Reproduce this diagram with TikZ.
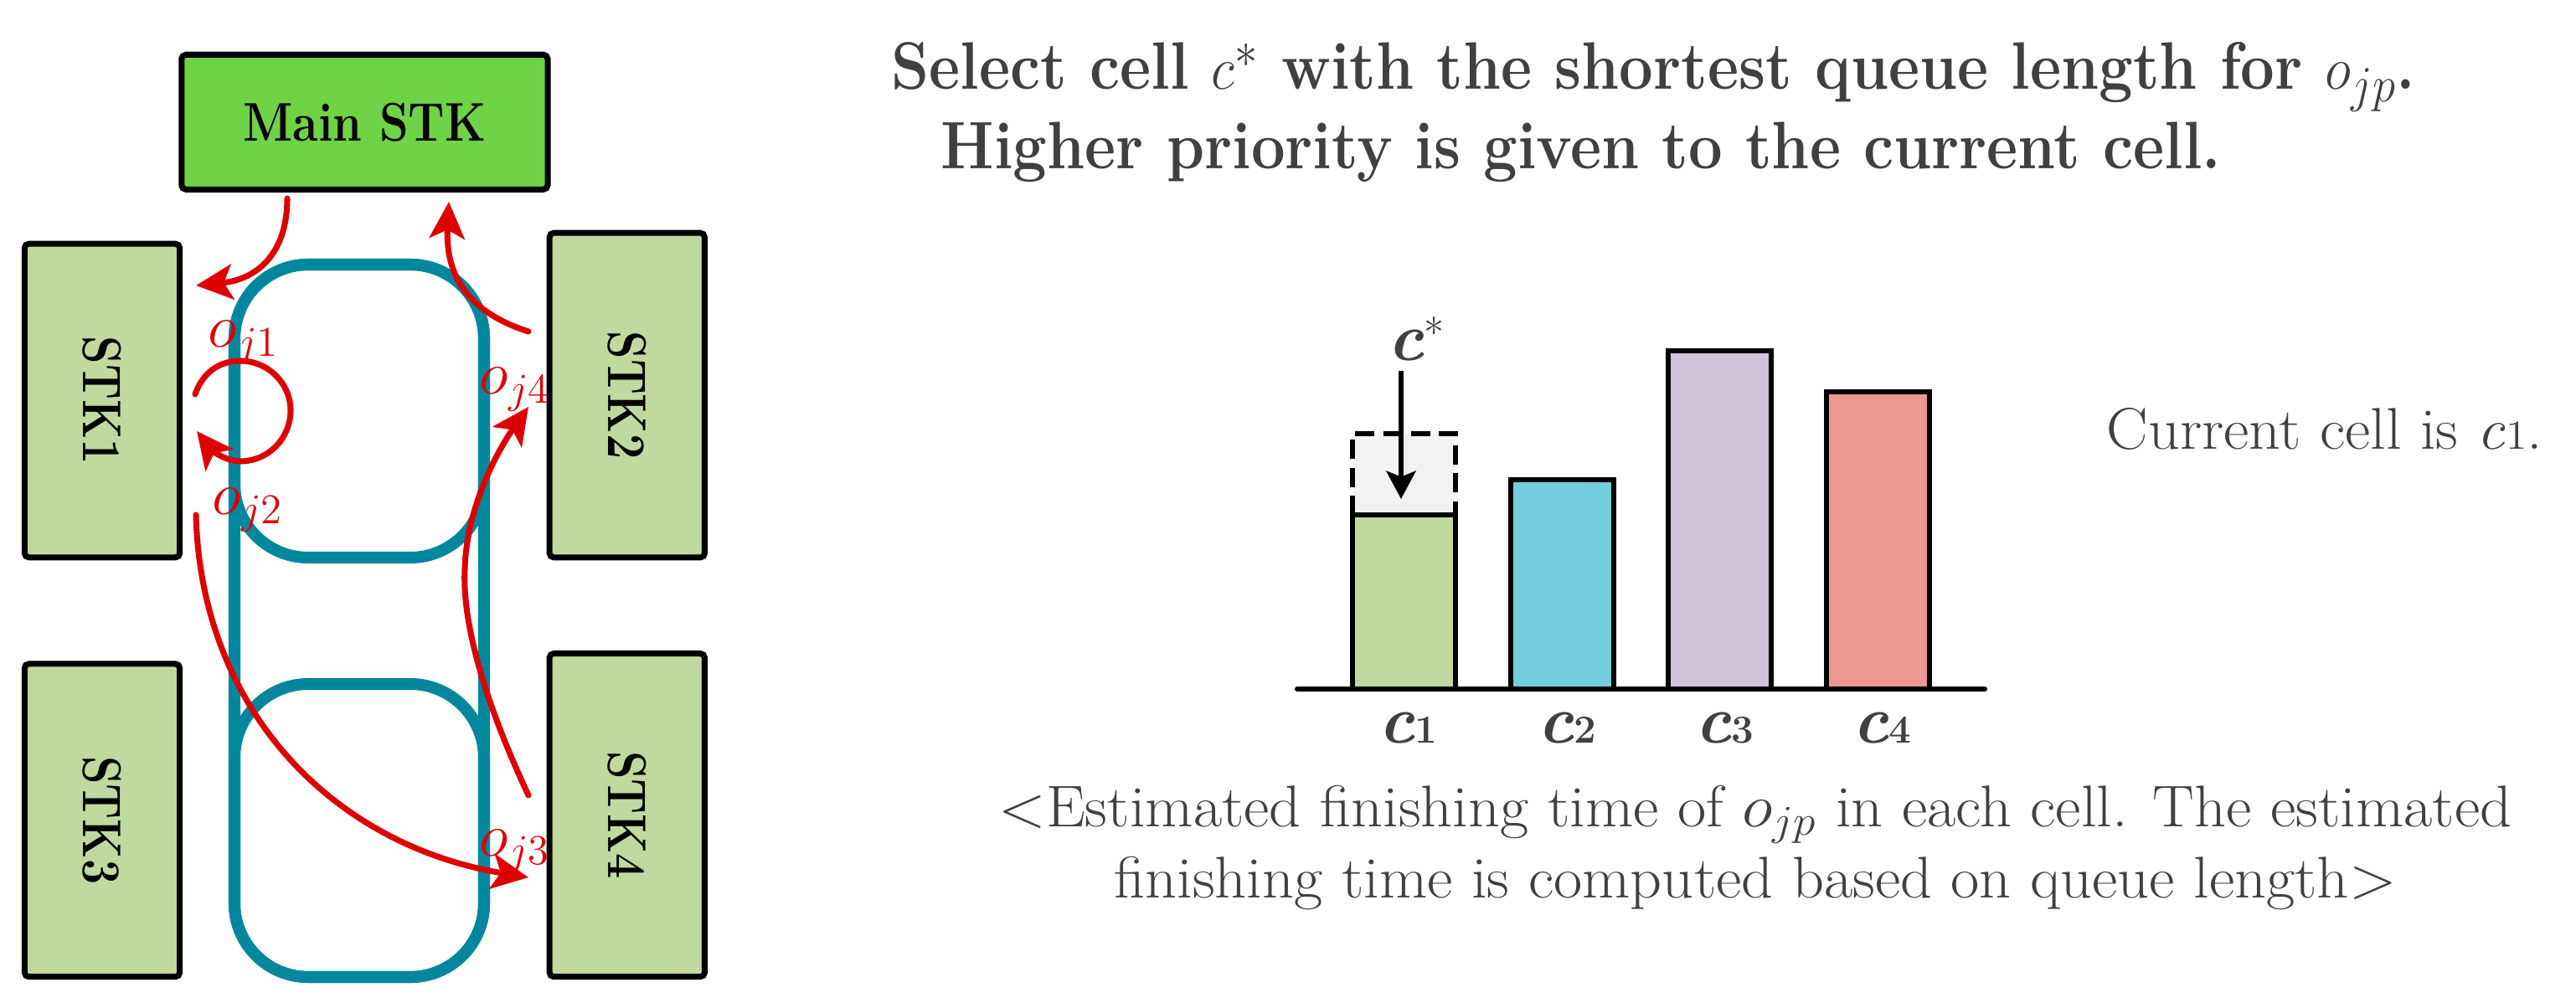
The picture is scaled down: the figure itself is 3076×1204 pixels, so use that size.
\documentclass[tikz,border=0pt]{standalone}
\usepackage{graphicx}
\usetikzlibrary{arrows.meta}
\definecolor{txtgray}{RGB}{64,64,64}
\definecolor{mainGreen}{RGB}{112,210,70}
\definecolor{lightGreen}{RGB}{193,216,158}
\definecolor{loopTeal}{RGB}{0,135,158}
\definecolor{arrowRed}{RGB}{222,0,0}
\definecolor{barBlue}{RGB}{116,206,222}
\definecolor{barPurple}{RGB}{209,195,220}
\definecolor{barPink}{RGB}{237,152,144}
\definecolor{dashFill}{RGB}{242,242,242}
\newsavebox\mytmpbox
\newlength\mytmplen
\newcommand\mytitlefont{\fontsize{22.8}{27}\selectfont\bfseries}
\newcommand\mybodyfont{\fontsize{20}{24}\selectfont}
\newcommand\myclabel[1]{{\fontsize{23}{23}\selectfont\bfseries\itshape c}{\fontsize{13.5}{14}\selectfont\bfseries #1}}
\begin{document}
\sbox\mytmpbox{\mytitlefont Higher priority is given to the current cell.}%
\setlength\mytmplen{\wd\mytmpbox}%
\pgfmathsetmacro\mytsx{15.28cm/\mytmplen}%
\sbox\mytmpbox{\mybodyfont\textless Estimated finishing time of $o_{jp}$ in each cell. The estimated}%
\setlength\mytmplen{\wd\mytmpbox}%
\pgfmathsetmacro\mybsx{18.06cm/\mytmplen}%
\begin{tikzpicture}[x=0.01cm,y=-0.01cm,
  stkbox/.style={draw=black, line width=2pt, rounded corners=1.5pt, inner sep=0pt,
     font=\fontsize{18.5}{20}\selectfont\bfseries},
  loopline/.style={draw=loopTeal, line width=4pt},
  redarrow/.style={draw=arrowRed, line width=2pt, line cap=round,
     -{Stealth[length=12.5pt,width=12pt,inset=3pt]}},
  redlabel/.style={text=arrowRed, inner sep=0pt, anchor=base west,
     font=\fontsize{21.5}{22}\selectfont},
  barbox/.style={draw=black, line width=1.7pt},
  blackarrow/.style={draw=black, line width=1.6pt,
     -{Stealth[length=9.5pt,width=10pt,inset=2pt]}},
  gtext/.style={text=txtgray, inner sep=0pt}]
\useasboundingbox (0,0) rectangle (3076,1204);

% ---------- left: stockers and loops ----------
\draw[loopline, rounded corners=0.88cm] (280,316) rectangle (578,1167);
\draw[loopline, rounded corners=0.88cm] (280,316) rectangle (578,666);
\draw[loopline, rounded corners=0.88cm] (280,817) rectangle (578,1167);

\node[stkbox, fill=mainGreen, minimum width=4.37cm, minimum height=1.61cm] (main) at (435.4,145.8)
  {\resizebox{2.9cm}{\height}{Main STK}};
\node[stkbox, fill=lightGreen, minimum width=1.853cm, minimum height=3.745cm] (stk1) at (122,478.5)
  {\rotatebox{-90}{\resizebox{1.53cm}{\height}{STK1}}};
\node[stkbox, fill=lightGreen, minimum width=1.853cm, minimum height=3.875cm] (stk2) at (748.8,472)
  {\rotatebox{-90}{\resizebox{1.53cm}{\height}{STK2}}};
\node[stkbox, fill=lightGreen, minimum width=1.853cm, minimum height=3.736cm] (stk3) at (122,979.8)
  {\rotatebox{-90}{\resizebox{1.53cm}{\height}{STK3}}};
\node[stkbox, fill=lightGreen, minimum width=1.853cm, minimum height=3.86cm] (stk4) at (748.8,973.6)
  {\rotatebox{-90}{\resizebox{1.53cm}{\height}{STK4}}};

\coordinate (a1s) at (343,237);  \coordinate (a1e) at (234,341);
\coordinate (a2s) at (631,396);  \coordinate (a2e) at (536,241);
\coordinate (a3s) at (233,471);  \coordinate (a3e) at (235,515);
\coordinate (a4s) at (631,950);  \coordinate (a4e) at (631,486);
\coordinate (a5s) at (234,615);  \coordinate (a5e) at (631,1048);

\draw[redarrow] (a1s) .. controls (343,305) and (305,334) .. (a1e);
\draw[redarrow] (a2s) .. controls (550,370) and (532,320) .. (a2e);
\draw[redarrow] (a3s) .. controls (242,445) and (262,431) .. (287,431)
   .. controls (320,431) and (347,458) .. (347,490)
   .. controls (347,524) and (320,551) .. (287,551)
   .. controls (270,551) and (253,538) .. (a3e);
\draw[redarrow] (a4s) .. controls (575,830) and (552,740) .. (555,680)
   .. controls (557,600) and (600,530) .. (a4e);
\draw[redarrow] (a5s) .. controls (240,850) and (400,1010) .. (a5e);

\node[redlabel] (oj1) at (248,415) {$o_{j1}$};
\node[redlabel] (oj4) at (572,471) {$o_{j4}$};
\node[redlabel] (oj2) at (253,615) {$o_{j2}$};
\node[redlabel] (oj3) at (572,1022) {$o_{j3}$};

% ---------- title ----------
\node[gtext, anchor=base west] (title1) at (1064,107)
  {\mytitlefont\scalebox{\mytsx}[1]{Select cell $c^{*}$ with the shortest queue length for $o_{jp}$.}};
\node[gtext, anchor=base west] (title2) at (1123,202)
  {\mytitlefont\scalebox{\mytsx}[1]{Higher priority is given to the current cell.}};

% ---------- chart ----------
\fill[dashFill] (1615,518) rectangle (1738,615);
\draw[barbox, dash pattern=on 6.5pt off 3pt] (1615,615) -- (1615,518) -- (1738,518) -- (1738,615);
\draw[barbox, fill=lightGreen] (1615,615) rectangle (1738,823);
\draw[barbox, fill=barBlue] (1804,573) rectangle (1927,823);
\draw[barbox, fill=barPurple] (1992,419) rectangle (2115,823);
\draw[barbox, fill=barPink] (2181,468) rectangle (2304,823);
\coordinate (axl) at (1549,823); \coordinate (axr) at (2370,823);
\draw[line width=1.7pt, line cap=round] (axl) -- (axr);

\node[gtext, anchor=base] (lc1) at (1681,887) {\myclabel{1}};
\node[gtext, anchor=base] (lc2) at (1871,887) {\myclabel{2}};
\node[gtext, anchor=base] (lc3) at (2059,887) {\myclabel{3}};
\node[gtext, anchor=base] (lc4) at (2247,887) {\myclabel{4}};

\node[gtext, anchor=base west] (cstar) at (1657,431)
  {{\fontsize{23}{23}\selectfont\bfseries\itshape c}\raisebox{4.5pt}{\fontsize{14}{14}\selectfont *}};
\coordinate (csStart) at (1673,443); \coordinate (csTip) at (1673,596);
\draw[blackarrow] (csStart) -- (csTip);

\node[gtext, anchor=base west] (cur) at (2515,537)
  {\resizebox{5.2cm}{\height}{\mybodyfont Current cell is \textit{c}{\fontsize{14}{14}\selectfont 1}.}};

% ---------- bottom caption ----------
\node[gtext, anchor=base] (cap1) at (2096,987)
  {\mybodyfont\scalebox{\mybsx}[1]{\textless Estimated finishing time of $o_{jp}$ in each cell. The estimated}};
\node[gtext, anchor=base] (cap2) at (2096,1072)
  {\mybodyfont\scalebox{\mybsx}[1]{finishing time is computed based on queue length\textgreater}};
\end{tikzpicture}
\end{document}
